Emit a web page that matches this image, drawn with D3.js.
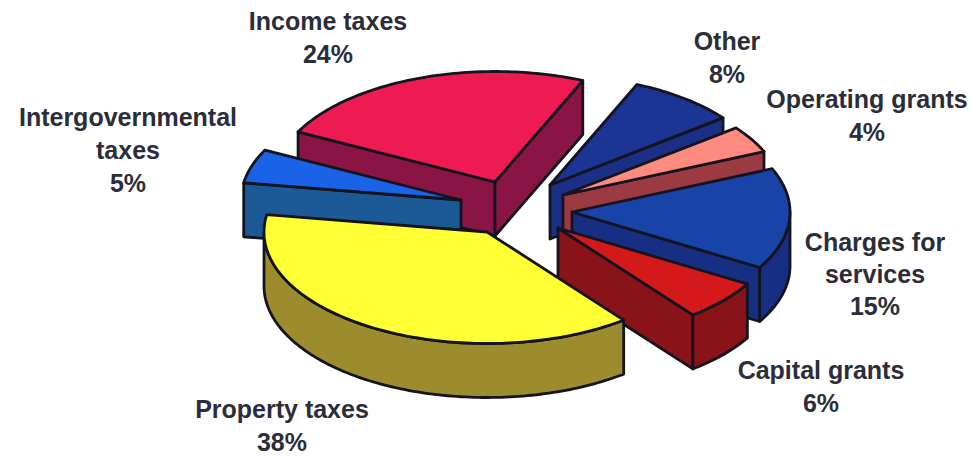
<!DOCTYPE html>
<html>
<head>
<meta charset="utf-8">
<script src="https://cdn.jsdelivr.net/npm/d3@7/dist/d3.min.js"></script>
<style>
  html, body { margin: 0; padding: 0; background: #fff; }
  svg { display: block; }
  text { font-family: "Liberation Sans", Arial, sans-serif; font-weight: 700; fill: #2b2d3a; text-anchor: middle; }
</style>
</head>
<body>
<svg id="chart" width="974" height="456"></svg>
<script>
// Revenue sources, clockwise from the income taxes wedge.
const categories = ["Income taxes", "Other", "Operating grants", "Charges for services", "Capital grants", "Property taxes", "Intergovernmental taxes"];
const shares = [24, 8, 4, 15, 6, 38, 5];

// Wedge styling, same order as the categories.
const topColors = ["#ee1a52", "#1c3594", "#ff8a80", "#1843a8", "#d4191b", "#ffff33", "#1a62e6"];
const wallColors = ["#8a1545", "#1a2f85", "#9c3a44", "#172f82", "#8a1319", "#9c8c2e", "#1b5a96"];

// Each wedge is pulled away from the pie on its own; this is its apex on the page and its radius.
const apexes = [[495, 182], [550, 185], [563, 195], [572, 212], [558, 228], [487, 232], [461, 200]];
const radiiX = [221, 219, 219, 218, 220, 223, 220];

// Label lines, each block's first baseline and its line spacing.
const labelLines = [["Income taxes"], ["Other"], ["Operating grants"], ["Charges for", "services"], ["Capital grants"], ["Property taxes"], ["Intergovernmental", "taxes"]];
const labelAnchors = [[328, 30], [727, 50], [867, 108], [875, 251], [821, 379], [282, 418], [128, 126]];
const lineSteps = [33, 33, 33, 32, 33, 33, 33];

const tilt = 0.5, depth = 54;
const startAngle = -63 * Math.PI / 180;

const svg = d3.select("#chart");

const pie = d3.pie().sort(null)
  .startAngle(startAngle)
  .endAngle(startAngle + 2 * Math.PI);
const wedges = pie(shares).map((w, i) => ({ ...w, i }));

// Project a pie angle (0 = up, clockwise) onto the tilted top plane.
const rimPoint = (w, a) => {
  const [x, y] = apexes[w.i], r = radiiX[w.i];
  return [x + r * Math.sin(a), y - r * tilt * Math.cos(a)];
};
const rimRun = (w, a0, a1) => {
  const n = Math.max(2, Math.ceil(Math.abs(a1 - a0) / 0.02));
  return d3.range(n + 1).map(k => rimPoint(w, a0 + (a1 - a0) * k / n));
};
const drop = pts => pts.map(([x, y]) => [x, y + depth]);
const path = d3.line();
const closed = pts => path(pts) + "Z";

// Front-facing rim stretch of a wedge: the rim is visible between 90 and 270 degrees.
function visibleRim(w) {
  const lo = Math.PI / 2, hi = 3 * Math.PI / 2;
  const a0 = Math.max(w.startAngle, lo), a1 = Math.min(w.endAngle, hi);
  return a1 > a0 ? [a0, a1] : null;
}

// Back wedges first so the nearer ones overlap them.
const paintOrder = [0, 6, 1, 2, 3, 4, 5];

const slices = svg.selectAll("g.slice")
  .data(paintOrder.map(i => wedges[i]))
  .join("g")
  .attr("class", "slice")
  .attr("stroke", "#14141f")
  .attr("stroke-width", 2.8)
  .attr("stroke-linejoin", "round");

slices.each(function (w) {
  const g = d3.select(this);
  const apex = apexes[w.i];
  const walls = [];
  if (Math.sin(w.startAngle) < 0) walls.push([apex, rimPoint(w, w.startAngle)]);
  if (Math.sin(w.endAngle) > 0) walls.push([apex, rimPoint(w, w.endAngle)]);
  const rim = visibleRim(w);
  if (rim) walls.push(rimRun(w, rim[0], rim[1]));

  g.selectAll("path.wall")
    .data(walls)
    .join("path")
    .attr("class", "wall")
    .attr("fill", wallColors[w.i])
    .attr("d", edge => closed(edge.concat(drop(edge).reverse())));

  g.append("path")
    .attr("class", "top")
    .attr("fill", topColors[w.i])
    .attr("d", closed([apex].concat(rimRun(w, w.startAngle, w.endAngle))));
});

// Labels: name lines followed by the share.
const labels = svg.selectAll("text.label")
  .data(wedges)
  .join("text")
  .attr("class", "label")
  .attr("font-size", 25);

labels.each(function (w) {
  const [x, y] = labelAnchors[w.i];
  d3.select(this).selectAll("tspan")
    .data(labelLines[w.i].concat(shares[w.i] + "%"))
    .join("tspan")
    .attr("x", x)
    .attr("y", (_, k) => y + k * lineSteps[w.i])
    .text(d => d);
});
</script>
</body>
</html>
